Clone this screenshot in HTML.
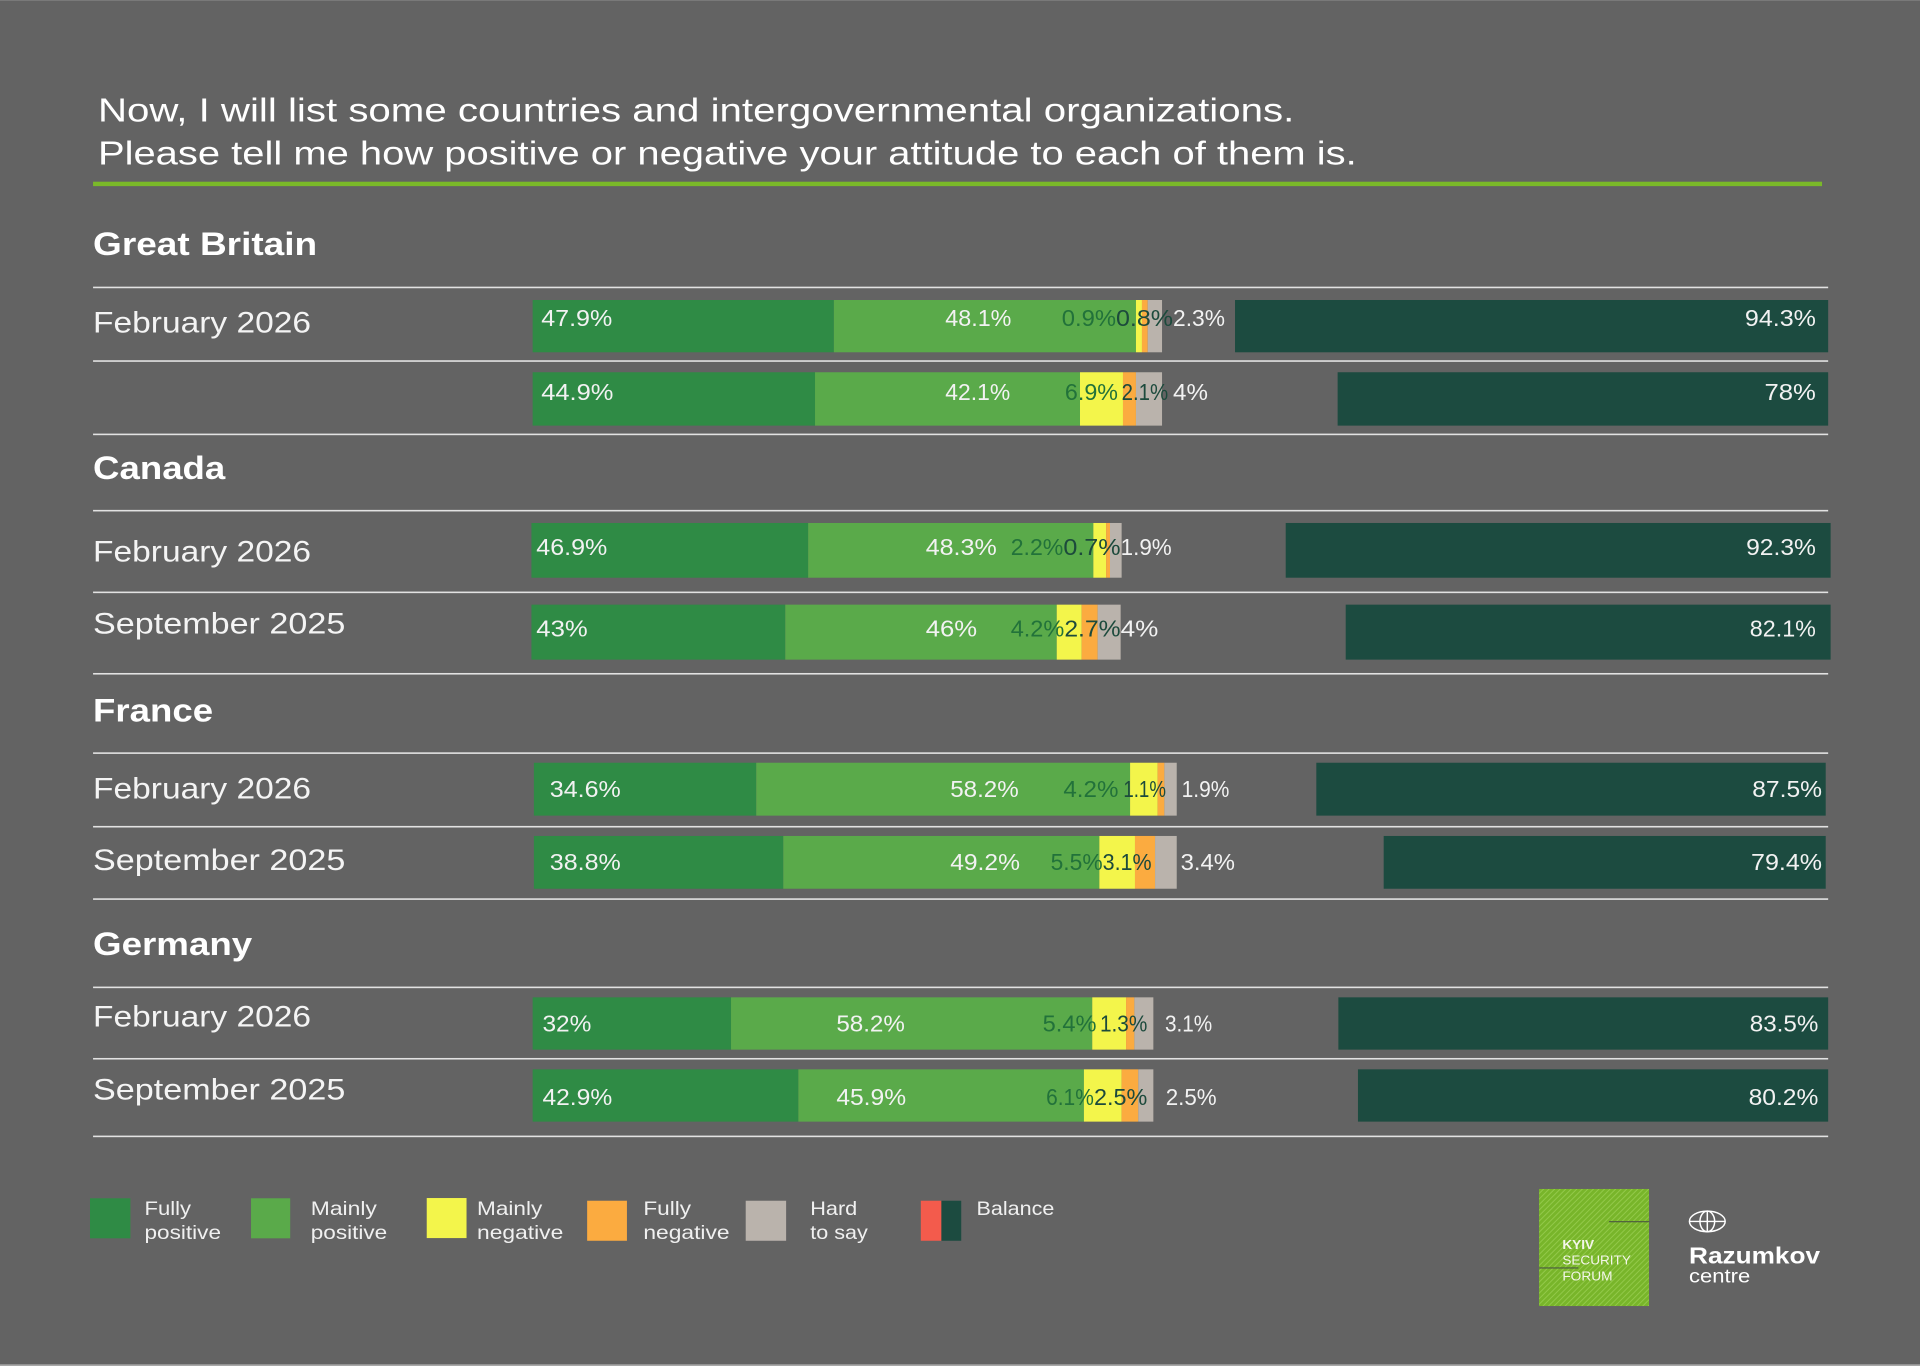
<!DOCTYPE html>
<html>
<head>
<meta charset="utf-8">
<style>
  html,body{margin:0;padding:0;background:#636363;}
  svg{display:block;}
  text{font-family:"Liberation Sans",sans-serif;}
</style>
</head>
<body>
<svg width="1920" height="1366" viewBox="0 0 1568 1115.57" preserveAspectRatio="none" xmlns="http://www.w3.org/2000/svg">
  <defs>
    <pattern id="hatch" width="3.2" height="3.2" patternUnits="userSpaceOnUse" patternTransform="rotate(45)">
      <rect width="3.2" height="3.2" fill="#78b52a"/>
      <rect width="0.8" height="3.2" fill="#93c94a"/>
    </pattern>
  </defs>
  <rect x="0" y="0" width="1568" height="1115.57" fill="#636363"/>
  <rect x="0" y="0" width="1568" height="0.8" fill="#7a7a7a"/>
  <rect x="0" y="1114.2" width="1568" height="1.4" fill="#a8a8a8"/>

  <!-- Title -->
  <text x="80" y="99.4" font-size="27" fill="#ffffff" textLength="977" lengthAdjust="spacingAndGlyphs">Now, I will list some countries and intergovernmental organizations.</text>
  <text x="80" y="134.2" font-size="27" fill="#ffffff" textLength="1028" lengthAdjust="spacingAndGlyphs">Please tell me how positive or negative your attitude to each of them is.</text>
  <rect x="76" y="148.4" width="1412" height="3.6" fill="#7ab929"/>

  <!-- Headings -->
  <g font-weight="bold" font-size="26.5" fill="#ffffff">
    <text x="76" y="208.3" textLength="183" lengthAdjust="spacingAndGlyphs">Great Britain</text>
    <text x="76" y="391.2" textLength="108" lengthAdjust="spacingAndGlyphs">Canada</text>
    <text x="76" y="589.4" textLength="98" lengthAdjust="spacingAndGlyphs">France</text>
    <text x="76" y="780" textLength="130" lengthAdjust="spacingAndGlyphs">Germany</text>
  </g>

  <!-- Separators -->
  <g fill="#e2e2e2">
    <rect x="76" y="234.1" width="1417" height="1.3"/>
    <rect x="76" y="294.2" width="1417" height="1.3"/>
    <rect x="76" y="354.1" width="1417" height="1.3"/>
    <rect x="76" y="416.4" width="1417" height="1.3"/>
    <rect x="76" y="483.1" width="1417" height="1.3"/>
    <rect x="76" y="549.6" width="1417" height="1.3"/>
    <rect x="76" y="614.4" width="1417" height="1.3"/>
    <rect x="76" y="674.5" width="1417" height="1.3"/>
    <rect x="76" y="733.6" width="1417" height="1.3"/>
    <rect x="76" y="805.7" width="1417" height="1.3"/>
    <rect x="76" y="864" width="1417" height="1.3"/>
    <rect x="76" y="927.4" width="1417" height="1.3"/>
  </g>

  <!-- Row labels -->
  <g font-size="24" fill="#f4f4f4">
    <text x="76" y="271.4" textLength="178" lengthAdjust="spacingAndGlyphs">February 2026</text>
    <text x="76" y="458.7" textLength="178" lengthAdjust="spacingAndGlyphs">February 2026</text>
    <text x="76" y="517.2" textLength="206" lengthAdjust="spacingAndGlyphs">September 2025</text>
    <text x="76" y="652" textLength="178" lengthAdjust="spacingAndGlyphs">February 2026</text>
    <text x="76" y="710.5" textLength="206" lengthAdjust="spacingAndGlyphs">September 2025</text>
    <text x="76" y="838.5" textLength="178" lengthAdjust="spacingAndGlyphs">February 2026</text>
    <text x="76" y="897.8" textLength="206" lengthAdjust="spacingAndGlyphs">September 2025</text>
  </g>

  <!-- GB Feb 2026 -->
  <g>
    <rect x="435" y="245" width="246" height="42.7" fill="#2f8b45"/>
    <rect x="681" y="245" width="246.7" height="42.7" fill="#5aaa4a"/>
    <rect x="927.7" y="245" width="4.9" height="42.7" fill="#f3f54b"/>
    <rect x="932.6" y="245" width="4.7" height="42.7" fill="#fbab40"/>
    <rect x="937.3" y="245" width="11.7" height="42.7" fill="#bab3ac"/>
    <rect x="1008.6" y="245" width="484.4" height="42.7" fill="#1c4b40"/>
  </g>
  <!-- GB Sep -->
  <g>
    <rect x="435" y="304" width="230.6" height="43.6" fill="#2f8b45"/>
    <rect x="665.6" y="304" width="216.4" height="43.6" fill="#5aaa4a"/>
    <rect x="882" y="304" width="35.1" height="43.6" fill="#f3f54b"/>
    <rect x="917.1" y="304" width="10.6" height="43.6" fill="#fbab40"/>
    <rect x="927.7" y="304" width="21.3" height="43.6" fill="#bab3ac"/>
    <rect x="1092.4" y="304" width="400.6" height="43.6" fill="#1c4b40"/>
  </g>
  <!-- Canada Feb -->
  <g>
    <rect x="434" y="427.1" width="226" height="44.7" fill="#2f8b45"/>
    <rect x="660" y="427.1" width="232.9" height="44.7" fill="#5aaa4a"/>
    <rect x="892.9" y="427.1" width="10.4" height="44.7" fill="#f3f54b"/>
    <rect x="903.3" y="427.1" width="3.2" height="44.7" fill="#fbab40"/>
    <rect x="906.5" y="427.1" width="9.5" height="44.7" fill="#bab3ac"/>
    <rect x="1050" y="427.1" width="445" height="44.7" fill="#1c4b40"/>
  </g>
  <!-- Canada Sep -->
  <g>
    <rect x="434" y="493.8" width="207.3" height="44.9" fill="#2f8b45"/>
    <rect x="641.3" y="493.8" width="221.7" height="44.9" fill="#5aaa4a"/>
    <rect x="863" y="493.8" width="20.4" height="44.9" fill="#f3f54b"/>
    <rect x="883.4" y="493.8" width="13" height="44.9" fill="#fbab40"/>
    <rect x="896.4" y="493.8" width="18.8" height="44.9" fill="#bab3ac"/>
    <rect x="1099" y="493.8" width="396" height="44.9" fill="#1c4b40"/>
  </g>
  <!-- France Feb -->
  <g>
    <rect x="436" y="622.9" width="181.6" height="43.2" fill="#2f8b45"/>
    <rect x="617.6" y="622.9" width="305.3" height="43.2" fill="#5aaa4a"/>
    <rect x="922.9" y="622.9" width="22.5" height="43.2" fill="#f3f54b"/>
    <rect x="945.4" y="622.9" width="5.5" height="43.2" fill="#fbab40"/>
    <rect x="950.9" y="622.9" width="10.1" height="43.2" fill="#bab3ac"/>
    <rect x="1075" y="622.9" width="416" height="43.2" fill="#1c4b40"/>
  </g>
  <!-- France Sep -->
  <g>
    <rect x="436" y="682.7" width="203.7" height="43.1" fill="#2f8b45"/>
    <rect x="639.7" y="682.7" width="258.1" height="43.1" fill="#5aaa4a"/>
    <rect x="897.8" y="682.7" width="29.1" height="43.1" fill="#f3f54b"/>
    <rect x="926.9" y="682.7" width="16.4" height="43.1" fill="#fbab40"/>
    <rect x="943.3" y="682.7" width="17.7" height="43.1" fill="#bab3ac"/>
    <rect x="1130" y="682.7" width="361" height="43.1" fill="#1c4b40"/>
  </g>
  <!-- Germany Feb -->
  <g>
    <rect x="435" y="814.5" width="162" height="42.7" fill="#2f8b45"/>
    <rect x="597" y="814.5" width="295" height="42.7" fill="#5aaa4a"/>
    <rect x="892" y="814.5" width="27.6" height="42.7" fill="#f3f54b"/>
    <rect x="919.6" y="814.5" width="6.8" height="42.7" fill="#fbab40"/>
    <rect x="926.4" y="814.5" width="15.5" height="42.7" fill="#bab3ac"/>
    <rect x="1093" y="814.5" width="400" height="42.7" fill="#1c4b40"/>
  </g>
  <!-- Germany Sep -->
  <g>
    <rect x="435" y="873.3" width="217" height="42.7" fill="#2f8b45"/>
    <rect x="652" y="873.3" width="233.2" height="42.7" fill="#5aaa4a"/>
    <rect x="885.2" y="873.3" width="30.8" height="42.7" fill="#f3f54b"/>
    <rect x="916" y="873.3" width="13.6" height="42.7" fill="#fbab40"/>
    <rect x="929.6" y="873.3" width="12.3" height="42.7" fill="#bab3ac"/>
    <rect x="1109" y="873.3" width="384" height="42.7" fill="#1c4b40"/>
  </g>

  <!-- Value labels -->
  <g font-size="19" fill="#f2f2f2">
    <!-- GB Feb -->
    <text x="442" y="266.2" textLength="58" lengthAdjust="spacingAndGlyphs">47.9%</text>
    <text x="772" y="266.2" textLength="54" lengthAdjust="spacingAndGlyphs">48.1%</text>
    <text x="867.1" y="266.2" textLength="44.3" lengthAdjust="spacingAndGlyphs" fill="#22723a">0.9%</text>
    <text x="911.4" y="266.2" textLength="46.6" lengthAdjust="spacingAndGlyphs" fill="#1c4a3c">0.8%</text>
    <text x="958" y="266.2" textLength="42.4" lengthAdjust="spacingAndGlyphs">2.3%</text>
    <text x="1483" y="266.2" text-anchor="end" textLength="58" lengthAdjust="spacingAndGlyphs">94.3%</text>
    <!-- GB Sep -->
    <text x="442" y="326.7" textLength="59" lengthAdjust="spacingAndGlyphs">44.9%</text>
    <text x="772" y="326.7" textLength="53" lengthAdjust="spacingAndGlyphs">42.1%</text>
    <text x="869.7" y="326.7" textLength="43.3" lengthAdjust="spacingAndGlyphs" fill="#22723a">6.9%</text>
    <text x="916" y="326.7" textLength="38" lengthAdjust="spacingAndGlyphs" fill="#1c4a3c">2.1%</text>
    <text x="958" y="326.7" textLength="28.5" lengthAdjust="spacingAndGlyphs">4%</text>
    <text x="1483" y="326.7" text-anchor="end" textLength="42" lengthAdjust="spacingAndGlyphs">78%</text>
    <!-- Canada Feb -->
    <text x="438" y="453.3" textLength="58" lengthAdjust="spacingAndGlyphs">46.9%</text>
    <text x="756" y="453.3" textLength="58" lengthAdjust="spacingAndGlyphs">48.3%</text>
    <text x="825.4" y="453.3" textLength="43" lengthAdjust="spacingAndGlyphs" fill="#22723a">2.2%</text>
    <text x="868.4" y="453.3" textLength="46.8" lengthAdjust="spacingAndGlyphs" fill="#1c4a3c">0.7%</text>
    <text x="915.2" y="453.3" textLength="41.7" lengthAdjust="spacingAndGlyphs">1.9%</text>
    <text x="1483" y="453.3" text-anchor="end" textLength="57" lengthAdjust="spacingAndGlyphs">92.3%</text>
    <!-- Canada Sep -->
    <text x="438" y="520" textLength="42" lengthAdjust="spacingAndGlyphs">43%</text>
    <text x="756" y="520" textLength="42" lengthAdjust="spacingAndGlyphs">46%</text>
    <text x="825.4" y="520" textLength="43.8" lengthAdjust="spacingAndGlyphs" fill="#22723a">4.2%</text>
    <text x="869.2" y="520" textLength="46" lengthAdjust="spacingAndGlyphs" fill="#1c4a3c">2.7%</text>
    <text x="915.2" y="520" textLength="30.8" lengthAdjust="spacingAndGlyphs">4%</text>
    <text x="1483" y="520" text-anchor="end" textLength="54" lengthAdjust="spacingAndGlyphs">82.1%</text>
    <!-- France Feb -->
    <text x="449" y="651" textLength="58" lengthAdjust="spacingAndGlyphs">34.6%</text>
    <text x="776" y="651" textLength="56" lengthAdjust="spacingAndGlyphs">58.2%</text>
    <text x="868.4" y="651" textLength="45" lengthAdjust="spacingAndGlyphs" fill="#22723a">4.2%</text>
    <text x="917.4" y="651" textLength="34.8" lengthAdjust="spacingAndGlyphs" fill="#1c4a3c">1.1%</text>
    <text x="965" y="651" textLength="39" lengthAdjust="spacingAndGlyphs">1.9%</text>
    <text x="1488" y="651" text-anchor="end" textLength="57" lengthAdjust="spacingAndGlyphs">87.5%</text>
    <!-- France Sep -->
    <text x="449" y="710.5" textLength="58" lengthAdjust="spacingAndGlyphs">38.8%</text>
    <text x="776" y="710.5" textLength="57" lengthAdjust="spacingAndGlyphs">49.2%</text>
    <text x="858" y="710.5" textLength="42.5" lengthAdjust="spacingAndGlyphs" fill="#22723a">5.5%</text>
    <text x="900.5" y="710.5" textLength="40" lengthAdjust="spacingAndGlyphs" fill="#1c4a3c">3.1%</text>
    <text x="964.2" y="710.5" textLength="44.4" lengthAdjust="spacingAndGlyphs">3.4%</text>
    <text x="1488" y="710.5" text-anchor="end" textLength="58" lengthAdjust="spacingAndGlyphs">79.4%</text>
    <!-- Germany Feb -->
    <text x="443" y="842.5" textLength="40" lengthAdjust="spacingAndGlyphs">32%</text>
    <text x="683" y="842.5" textLength="56" lengthAdjust="spacingAndGlyphs">58.2%</text>
    <text x="851.5" y="842.5" textLength="44" lengthAdjust="spacingAndGlyphs" fill="#22723a">5.4%</text>
    <text x="898.3" y="842.5" textLength="38.7" lengthAdjust="spacingAndGlyphs" fill="#1c4a3c">1.3%</text>
    <text x="951.4" y="842.5" textLength="38.6" lengthAdjust="spacingAndGlyphs">3.1%</text>
    <text x="1485" y="842.5" text-anchor="end" textLength="56" lengthAdjust="spacingAndGlyphs">83.5%</text>
    <!-- Germany Sep -->
    <text x="443" y="902.4" textLength="57" lengthAdjust="spacingAndGlyphs">42.9%</text>
    <text x="683" y="902.4" textLength="57" lengthAdjust="spacingAndGlyphs">45.9%</text>
    <text x="854.3" y="902.4" textLength="39" lengthAdjust="spacingAndGlyphs" fill="#22723a">6.1%</text>
    <text x="893.4" y="902.4" textLength="43.6" lengthAdjust="spacingAndGlyphs" fill="#1c4a3c">2.5%</text>
    <text x="952" y="902.4" textLength="41.6" lengthAdjust="spacingAndGlyphs">2.5%</text>
    <text x="1485" y="902.4" text-anchor="end" textLength="57" lengthAdjust="spacingAndGlyphs">80.2%</text>
  </g>

  <!-- Legend -->
  <rect x="73.5" y="978.6" width="33" height="32.7" fill="#2f8b45"/>
  <rect x="205" y="978.6" width="32" height="32.7" fill="#5aaa4a"/>
  <rect x="348.5" y="978.4" width="32.5" height="32.7" fill="#f3f54b"/>
  <rect x="479.5" y="980.6" width="32.5" height="32.7" fill="#fbab40"/>
  <rect x="609" y="980.6" width="33" height="32.7" fill="#bab3ac"/>
  <rect x="752" y="980.6" width="16.8" height="32.7" fill="#f35b4c"/>
  <rect x="768.8" y="980.6" width="16.2" height="32.7" fill="#1c4b40"/>
  <g font-size="15.5" fill="#f0f0f0">
    <text x="118" y="992.2" textLength="38" lengthAdjust="spacingAndGlyphs">Fully</text>
    <text x="118" y="1011.8" textLength="62.5" lengthAdjust="spacingAndGlyphs">positive</text>
    <text x="253.8" y="992.2" textLength="54" lengthAdjust="spacingAndGlyphs">Mainly</text>
    <text x="253.8" y="1011.8" textLength="62.4" lengthAdjust="spacingAndGlyphs">positive</text>
    <text x="389.6" y="992.2" textLength="53.3" lengthAdjust="spacingAndGlyphs">Mainly</text>
    <text x="389.6" y="1011.8" textLength="70.4" lengthAdjust="spacingAndGlyphs">negative</text>
    <text x="525.4" y="992.2" textLength="39" lengthAdjust="spacingAndGlyphs">Fully</text>
    <text x="525.4" y="1011.8" textLength="70.4" lengthAdjust="spacingAndGlyphs">negative</text>
    <text x="661.7" y="992.2" textLength="38.4" lengthAdjust="spacingAndGlyphs">Hard</text>
    <text x="661.7" y="1011.8" textLength="47" lengthAdjust="spacingAndGlyphs">to say</text>
    <text x="797.5" y="992.2" textLength="63.6" lengthAdjust="spacingAndGlyphs">Balance</text>
  </g>

  <!-- Kyiv Security Forum logo -->
  <rect x="1256.9" y="971" width="89.8" height="95.6" fill="url(#hatch)"/>
  <rect x="1314" y="997.2" width="33" height="1" fill="#4f5f40"/>
  <rect x="1257" y="1035" width="32" height="1" fill="#4f5f40"/>
  <g font-size="10.2" fill="#f4f6ea">
    <text x="1275.9" y="1020" font-weight="bold" textLength="26" lengthAdjust="spacingAndGlyphs">KYIV</text>
    <text x="1275.9" y="1032.8" textLength="56" lengthAdjust="spacingAndGlyphs">SECURITY</text>
    <text x="1275.9" y="1045.9" textLength="41" lengthAdjust="spacingAndGlyphs">FORUM</text>
  </g>

  <!-- Razumkov centre logo -->
  <g fill="none" stroke="#ffffff" stroke-width="1.2">
    <ellipse cx="1394.3" cy="997.5" rx="14.6" ry="8.4"/>
    <ellipse cx="1394.3" cy="997.5" rx="6" ry="8.4"/>
    <line x1="1394.3" y1="989.1" x2="1394.3" y2="1005.9"/>
    <line x1="1379.7" y1="997.5" x2="1408.9" y2="997.5"/>
  </g>
  <text x="1379.4" y="1031.7" font-size="19" font-weight="bold" fill="#ffffff" textLength="107" lengthAdjust="spacingAndGlyphs">Razumkov</text>
  <text x="1379.4" y="1047.2" font-size="16" fill="#ffffff" textLength="50" lengthAdjust="spacingAndGlyphs">centre</text>
</svg>
</body>
</html>
